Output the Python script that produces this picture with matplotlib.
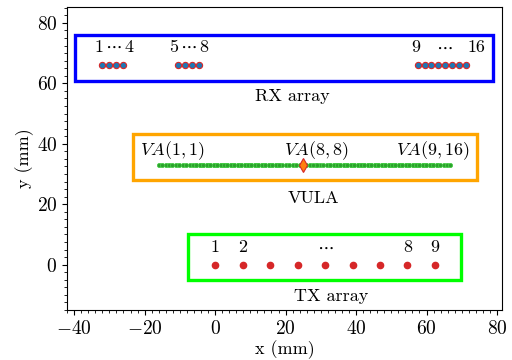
import matplotlib
matplotlib.use('Agg')
import matplotlib.pyplot as plt
from matplotlib.patches import Rectangle
from matplotlib.ticker import MultipleLocator

plt.rcParams['font.family'] = 'serif'
plt.rcParams['font.serif'] = ['cmr10']
plt.rcParams['mathtext.fontset'] = 'cm'
plt.rcParams['axes.formatter.use_mathtext'] = True
plt.rcParams['axes.unicode_minus'] = True

# element positions (mm)
rx_x = [-32.0, -30.05, -28.1, -26.15, -10.55, -8.6, -6.65, -4.7,
        57.5, 59.45, 61.4, 63.35, 65.3, 67.25, 69.2, 71.15]
rx_y = 66
tx_x = [0, 7.8, 15.6, 23.4, 31.2, 39.0, 46.8, 54.6, 62.4]
tx_y = 0
va_y = 33

# virtual elements: midpoint of each tx/rx pair
va_x = [(t + r) / 2 for t in tx_x for r in rx_x]
va_mark = (tx_x[7] + rx_x[7]) / 2

fig = plt.figure(figsize=(5.12, 3.6), dpi=100)
ax = fig.add_axes([0.131, 0.139, 0.850, 0.842])

ax.plot(va_x, [va_y] * len(va_x), 'o', ms=3, color='#2ca02c', mec='#44cc44', mew=0.6)
ax.plot([va_mark], [va_y], 'd', ms=7, color='#ff7f0e', mec='#d62728', mew=0.8)
ax.plot(rx_x, [rx_y] * len(rx_x), 'o', ms=4.5, color='#1f77b4', mec='#d62728', mew=0.8)
ax.plot(tx_x, [tx_y] * len(tx_x), 'o', ms=4.5, color='#d62728')

ax.add_patch(Rectangle((-39.7, 60.7), 118.7, 15.2, fill=False, ec='#0000ff', lw=2.4))
ax.add_patch(Rectangle((-23.4, 28.1), 97.6, 15.0, fill=False, ec='#ffa500', lw=2.4))
ax.add_patch(Rectangle((-7.6, -5.0), 77.4, 15.1, fill=False, ec='#00ff00', lw=2.4))

fs = 13
ax.text(-28.6, 69.5, r'1$\,\cdots\,$4', ha='center', va='bottom', fontsize=fs)
ax.text(-7.2, 69.5, r'5$\,\cdots\,$8', ha='center', va='bottom', fontsize=fs)
ax.text(57.0, 69.5, '9', ha='center', va='bottom', fontsize=fs)
ax.text(65.0, 69.5, r'$\cdots$', ha='center', va='bottom', fontsize=fs)
ax.text(74.2, 69.5, '16', ha='center', va='bottom', fontsize=fs)
ax.text(22, 55.8, 'RX array', ha='center', va='center', fontsize=fs)

ax.text(-12.2, 37.6, r'$VA(1,1)$', ha='center', va='center', fontsize=fs)
ax.text(28.8, 37.6, r'$VA(8,8)$', ha='center', va='center', fontsize=fs)
ax.text(61.7, 37.6, r'$VA(9,16)$', ha='center', va='center', fontsize=fs)
ax.text(28, 21.8, 'VULA', ha='center', va='center', fontsize=fs)

tx_lab = ['1', '2', '', '', r'$\cdots$', '', '', '8', '9']
for x, s in zip(tx_x, tx_lab):
    if s:
        ax.text(x, 3.2, s, ha='center', va='bottom', fontsize=fs)
ax.text(33, -10.5, 'TX array', ha='center', va='center', fontsize=fs)

ax.set_xlim(-42, 81.5)
ax.set_ylim(-15, 85.3)
ax.xaxis.set_major_locator(MultipleLocator(20))
ax.yaxis.set_major_locator(MultipleLocator(20))
ax.xaxis.set_minor_locator(MultipleLocator(2))
ax.yaxis.set_minor_locator(MultipleLocator(2.5))
ax.tick_params(labelsize=14)
ax.set_xlabel('x (mm)', fontsize=13, labelpad=2)
ax.set_ylabel('y (mm)', fontsize=13, labelpad=2)

fig.savefig('out.png', dpi=100)
